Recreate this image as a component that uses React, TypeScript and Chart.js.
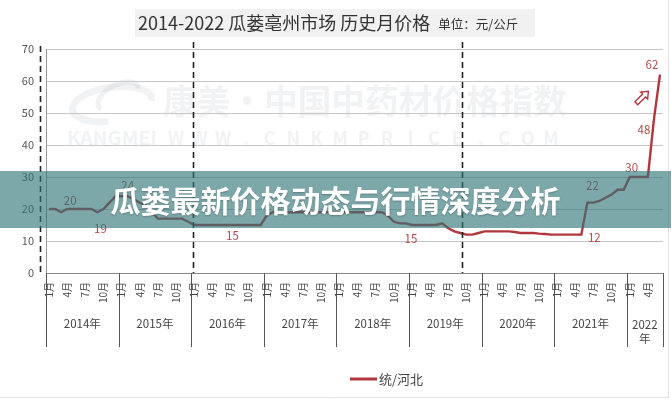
import React, { useEffect, useRef } from 'react';
import { Chart, registerables } from 'chart.js';

Chart.register(...registerables);

// ---------- data ----------
const years = [2014, 2015, 2016, 2017, 2018, 2019, 2020, 2021, 2022];
const prices2014 = [20, 20, 19, 20, 20, 20, 20, 20, 19, 20, 22, 24];
const prices2015 = [24, 24, 23, 22, 21, 19, 17, 17, 17, 17, 17, 16];
const prices2016 = [15, 15, 15, 15, 15, 15, 15, 15, 15, 15, 15, 15];
const prices2017 = [18, 19, 19, 19, 19, 19, 19, 19, 19, 19, 19, 19];
const prices2018 = [19, 19, 19, 19, 19, 19, 19, 19, 18, 16, 15.5, 15.5];
const prices2019 = [15, 15, 15, 15, 15, 15.5, 14, 13, 12.5, 12, 12, 12.5];
const prices2020 = [13, 13, 13, 13, 13, 12.8, 12.5, 12.5, 12.5, 12.3, 12.2, 12];
const prices2021 = [12, 12, 12, 12, 12, 22, 22, 22.5, 23.5, 24.5, 26, 26];
const prices2022 = [30, 30, 30, 30, 48, 62];
const pricesByYear = [prices2014, prices2015, prices2016, prices2017, prices2018, prices2019, prices2020, prices2021, prices2022];
const prices: number[] = ([] as number[]).concat(...pricesByYear);

// category labels: year-month
const months: string[] = [];
pricesByYear.forEach((arr, yi) => arr.forEach((_, m) => months.push(`${years[yi]}-${m + 1}`)));
const monthTickMonths = [1, 4, 7, 10];

const seriesName = '统/河北';
const titleText = '2014-2022 瓜蒌亳州市场 历史月价格';
const unitText = '单位：元/公斤';
const bannerText = '瓜蒌最新价格动态与行情深度分析';
const yTicks = { min: 0, max: 70, step: 10 };
// dashed vertical markers (in month-index units)
const dashedMarkers = [23.8, 68.3];
// value labels: data index and pixel offset
const valueLabels = [
  { i: 3, dx: 3, dy: -8 },
  { i: 8, dx: 3, dy: 16 },
  { i: 13, dx: 0, dy: -11 },
  { i: 30, dx: 2, dy: 11 },
  { i: 60, dx: -1, dy: 14 },
  { i: 88, dx: 13, dy: 3 },
  { i: 89, dx: 5, dy: -17 },
  { i: 96, dx: 2, dy: -9 },
  { i: 100, dx: -10, dy: 10 },
  { i: 101, dx: -8, dy: -10 },
];

// ---------- styles ----------
const FONT = '"Noto Sans CJK SC", "Noto Sans", sans-serif';
const LINE_COLOR = '#b0373c';
const LABEL_COLOR = '#b04848';
const WM = 'rgba(140,150,160,0.12)';

function fitText(ctx: CanvasRenderingContext2D, text: string, x: number, y: number, w: number) {
  const m = ctx.measureText(text).width;
  ctx.save();
  ctx.translate(x, y);
  ctx.scale(w / m, 1);
  ctx.fillText(text, 0, 0);
  ctx.restore();
}

const decor = {
  id: 'decor',
  beforeDraw(chart: any) {
    const { ctx, width, height } = chart;
    ctx.save();
    ctx.fillStyle = '#ffffff';
    ctx.fillRect(0, 0, width, height);

    // watermark
    ctx.fillStyle = WM;
    ctx.strokeStyle = WM;
    ctx.textBaseline = 'middle';
    ctx.textAlign = 'left';
    ctx.font = `bold 34px ${FONT}`;
    fitText(ctx, '康美·中国中药材价格指数', 163, 101, 404);
    ctx.font = `bold 18px ${FONT}`;
    fitText(ctx, 'KANGMEI', 67, 138, 90);
    const wchars = 'WWW.CNKMPRICE.COM'.split('');
    ctx.textAlign = 'center';
    wchars.forEach((c, k) => {
      ctx.fillText(c, 176 + k * ((551 - 176) / (wchars.length - 1)), 138);
    });
    // logo swoosh
    ctx.lineWidth = 7;
    ctx.beginPath();
    ctx.ellipse(112, 104, 40, 17, -0.15, 0.55 * Math.PI, 2.05 * Math.PI);
    ctx.stroke();
    ctx.lineWidth = 5;
    ctx.beginPath();
    ctx.ellipse(118, 96, 22, 11, -0.5, 0.9 * Math.PI, 2.1 * Math.PI);
    ctx.stroke();

    // title box
    ctx.fillStyle = '#f1f1f1';
    ctx.fillRect(135, 9, 400, 28);
    ctx.fillStyle = '#333';
    ctx.textAlign = 'left';
    ctx.font = `18px ${FONT}`;
    const tw = ctx.measureText(titleText).width;
    ctx.fillText(titleText, 138, 23);
    ctx.font = `12.5px ${FONT}`;
    ctx.fillText(unitText, 138 + tw + 8, 24);
    ctx.restore();
  },
  afterDraw(chart: any) {
    const { ctx, chartArea } = chart;
    const xs = chart.scales.x;
    const ys = chart.scales.y;
    ctx.save();

    // dashed verticals
    ctx.strokeStyle = '#222';
    ctx.lineWidth = 1.6;
    ctx.setLineDash([6, 4]);
    ctx.beginPath();
    ctx.moveTo(chartArea.left - 5.5, chartArea.top - 3);
    ctx.lineTo(chartArea.left - 5.5, chartArea.bottom);
    dashedMarkers.forEach((v) => {
      const px = Math.round(xs.getPixelForValue(v)) + 0.5;
      ctx.moveTo(px, chartArea.top - 7);
      ctx.lineTo(px, chartArea.bottom);
    });
    ctx.stroke();
    ctx.setLineDash([]);

    // year separators and labels
    const bounds: number[] = [];
    let acc = 0;
    bounds.push(chartArea.left);
    pricesByYear.forEach((arr) => {
      acc += arr.length;
      bounds.push(acc >= prices.length ? chartArea.right : xs.getPixelForValue(acc - 0.5));
    });
    ctx.strokeStyle = '#555';
    ctx.lineWidth = 1;
    ctx.beginPath();
    bounds.forEach((b) => {
      const px = Math.round(b) + 0.5;
      ctx.moveTo(px, chartArea.bottom);
      ctx.lineTo(px, 347);
    });
    ctx.stroke();
    ctx.fillStyle = '#444';
    ctx.font = `11.5px ${FONT}`;
    ctx.textAlign = 'center';
    ctx.textBaseline = 'middle';
    years.forEach((yr, k) => {
      const cx = (bounds[k] + bounds[k + 1]) / 2;
      const segW = bounds[k + 1] - bounds[k];
      const txt = `${yr}年`;
      if (ctx.measureText(txt).width > segW - 6) {
        ctx.fillText(String(yr), cx, 325);
        ctx.fillText('年', cx, 339);
      } else {
        ctx.fillText(txt, cx, 324);
      }
    });

    // value labels
    ctx.fillStyle = LABEL_COLOR;
    ctx.font = `11.5px ${FONT}`;
    valueLabels.forEach((l) => {
      const px = xs.getPixelForValue(l.i);
      const py = ys.getPixelForValue(prices[l.i]);
      ctx.fillText(String(prices[l.i]), px + l.dx, py + l.dy);
    });

    // up arrow near the last point
    const lx = xs.getPixelForValue(prices.length - 1);
    const ly = ys.getPixelForValue(prices[prices.length - 1]);
    ctx.save();
    ctx.translate(lx - 18, ly + 23);
    ctx.rotate(Math.PI / 4);
    ctx.strokeStyle = LINE_COLOR;
    ctx.fillStyle = '#fff';
    ctx.lineWidth = 1.4;
    ctx.beginPath();
    ctx.moveTo(0, -9);
    ctx.lineTo(5, -3);
    ctx.lineTo(2, -3);
    ctx.lineTo(2, 8);
    ctx.lineTo(-2, 8);
    ctx.lineTo(-2, -3);
    ctx.lineTo(-5, -3);
    ctx.closePath();
    ctx.fill();
    ctx.stroke();
    ctx.restore();

    // legend
    ctx.strokeStyle = LINE_COLOR;
    ctx.lineWidth = 3;
    ctx.beginPath();
    ctx.moveTo(350, 379);
    ctx.lineTo(377, 379);
    ctx.stroke();
    ctx.fillStyle = '#444';
    ctx.font = `13px ${FONT}`;
    ctx.textAlign = 'left';
    ctx.fillText(seriesName, 379, 379);

    // frame
    ctx.strokeStyle = '#e3e3e3';
    ctx.lineWidth = 1;
    ctx.beginPath();
    ctx.moveTo(0, 397.5);
    ctx.lineTo(669, 397.5);
    ctx.moveTo(668.5, 0);
    ctx.lineTo(668.5, 398);
    ctx.stroke();
    ctx.restore();
  },
};

export default function App() {
  const ref = useRef<HTMLCanvasElement>(null);
  useEffect(() => {
    const canvas = ref.current!;
    const chart = new Chart(canvas, {
      type: 'line',
      data: {
        labels: months,
        datasets: [
          {
            label: seriesName,
            data: prices,
            borderColor: LINE_COLOR,
            borderWidth: 2.4,
            pointRadius: 0,
            tension: 0,
            fill: false,
          },
        ],
      },
      options: {
        animation: false,
        responsive: false,
        devicePixelRatio: 1,
        layout: { padding: { left: 0, right: 8, top: 49, bottom: 0 } },
        plugins: { legend: { display: false }, tooltip: { enabled: false }, title: { display: false } },
        scales: {
          x: {
            type: 'category',
            offset: true,
            grid: { display: false, drawTicks: false },
            border: { display: true, color: '#888' },
            ticks: {
              autoSkip: false,
              minRotation: 90,
              maxRotation: 90,
              padding: 9,
              color: '#444',
              font: { size: 10, family: FONT },
              callback: (_v: any, idx: number) => {
                const m = (idx % 12) + 1;
                return monthTickMonths.includes(m) ? `${m}月` : '';
              },
            },
            afterFit: (s: any) => {
              s.height = 127;
              s.paddingLeft = 0;
              s.paddingRight = 0;
              s.paddingTop = 0;
              s.paddingBottom = 0;
            },
          },
          y: {
            min: yTicks.min,
            max: yTicks.max,
            ticks: { stepSize: yTicks.step, padding: 12, color: '#555', font: { size: 11, family: FONT } },
            grid: { color: '#c6c6c6', drawTicks: false },
            border: { display: true, color: '#999' },
            afterFit: (s: any) => {
              s.width = 46;
              s.paddingTop = 0;
              s.paddingBottom = 0;
            },
          },
        },
      } as any,
      plugins: [decor],
    });
    return () => chart.destroy();
  }, []);

  return (
    <div style={{ position: 'fixed', left: 0, top: 0, width: 671, height: 400, background: '#fff' }}>
      <canvas ref={ref} width={671} height={400} style={{ display: 'block' }} />
      <div
        style={{
          position: 'absolute',
          left: 0,
          top: 171,
          width: 671,
          height: 57,
          background: 'rgba(49,117,120,0.63)',
          display: 'flex',
          alignItems: 'center',
          justifyContent: 'center',
          color: '#fff',
          fontFamily: FONT,
          fontWeight: 'bold',
          fontSize: 30,
          lineHeight: '57px',
          textShadow: '0 1px 2px rgba(0,0,0,0.25)',
          whiteSpace: 'nowrap',
        }}
      >
        {bannerText}
      </div>
    </div>
  );
}
